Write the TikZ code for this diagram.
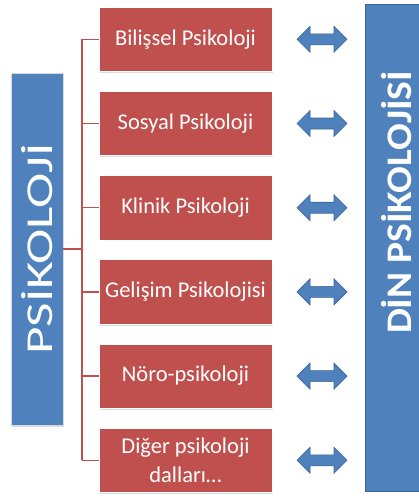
\documentclass[tikz,border=0pt]{standalone}
\usepackage{fontspec}
\setmainfont{Carlito}
\usetikzlibrary{shapes.arrows,shadows,calc}
\definecolor{redfill}{HTML}{C0504D}
\definecolor{bluefill}{HTML}{4F81BD}
\definecolor{blueedge}{HTML}{3A6598}
\begin{document}
\begin{tikzpicture}[x=1pt,y=-1pt,
  branchbox/.style={rectangle, fill=redfill, draw=white, line width=0.6pt,
    minimum width=173pt, minimum height=64.5pt, inner sep=2pt, text=white,
    font=\fontsize{22.5}{29}\selectfont, align=center,
    drop shadow={shadow xshift=1pt, shadow yshift=-1.5pt, fill=black!40, opacity=0.35}},
  mainbox/.style={rectangle, fill=bluefill, draw=black!15, line width=0.6pt,
    minimum width=52pt, minimum height=352pt, inner sep=0pt, text=white,
    drop shadow={shadow xshift=1pt, shadow yshift=-1.5pt, fill=black!40, opacity=0.35}},
  religbox/.style={rectangle, fill=bluefill, draw=blueedge, line width=0.8pt,
    minimum width=70pt, minimum height=487pt, inner sep=0pt},
  dblarrow/.style={double arrow, fill=bluefill, draw=blueedge, line width=0.6pt,
    minimum width=26pt, minimum height=50pt, double arrow head extend=7.5pt,
    inner xsep=0pt, inner ysep=5.2pt},
  linkline/.style={draw=redfill, line width=1.5pt}
]
\useasboundingbox (0,0) rectangle (419,498);
\clip (0,0) rectangle (419,498);
\fill[white] (0,0) rectangle (419,498);

% main left box
\node[mainbox] (psi) at (37,249)
  {\rotatebox{90}{\scalebox{1.4}[1]{\fontsize{38}{38}\selectfont PSİKOLOJİ}}};

% right box
\node[religbox] (din) at (400,247.5) {};
\node[text=white, inner sep=0pt] (dinlabel) at (397,202.5)
  {\rotatebox{90}{\scalebox{1.1}[1]{\fontsize{36}{36}\selectfont\bfseries DİN PSİKOLOJİSİ}}};

% branch boxes
\node[branchbox] (b1) at (185.5,39.3) {Bilişsel Psikoloji};
\node[branchbox] (b2) at (185.5,123.5) {Sosyal Psikoloji};
\node[branchbox] (b3) at (185.5,207.7) {Klinik Psikoloji};
\node[branchbox] (b4) at (185.5,291.9) {Gelişim Psikolojisi};
\node[branchbox] (b5) at (185.5,376.1) {Nöro-psikoloji};
\node[branchbox] (b6) at (185.5,460.3) {Diğer psikoloji\\dalları…};

% arrows
\foreach \i in {1,...,6} {
  \node[dblarrow] (a\i) at ($(b\i.center)+(136.5,0)$) {};
}

% connectors
\coordinate (trunk) at (82,0);
\draw[linkline] (psi.east) -- (psi.east -| trunk);
\draw[linkline] (b1.west -| trunk) -- (b6.west -| trunk);
\foreach \i in {1,...,6} {
  \draw[linkline] (b\i.west -| trunk) -- (b\i.west);
}
\end{tikzpicture}
\end{document}
